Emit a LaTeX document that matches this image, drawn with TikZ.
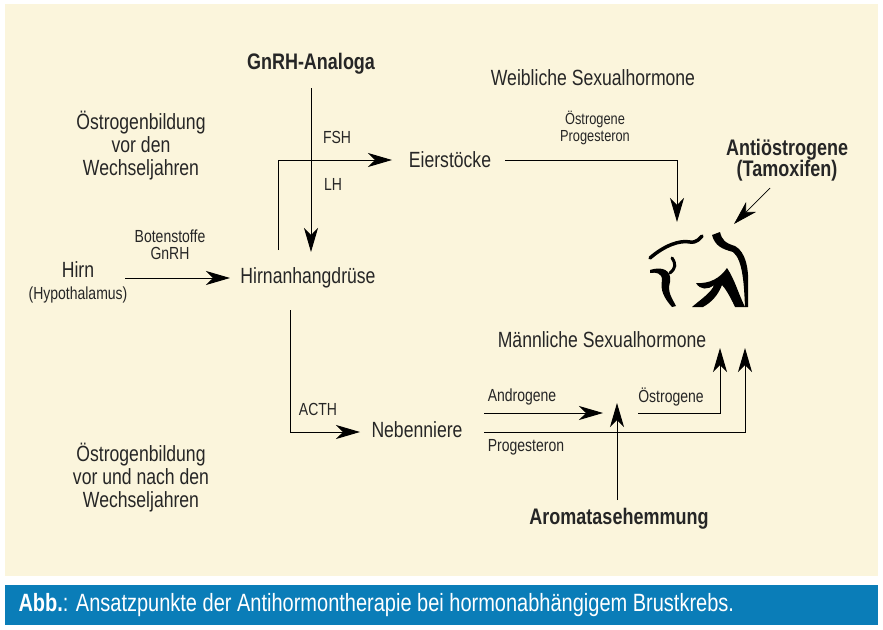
\documentclass[tikz,border=0pt]{standalone}
\usepackage{fontspec}
\setmainfont{Liberation Sans}[FakeStretch=0.8]
\usetikzlibrary{arrows.meta}
\definecolor{bgy}{HTML}{FBF5DC}
\definecolor{barb}{HTML}{0A7DB8}
\begin{document}
\begin{tikzpicture}[x=1pt,y=-1pt,
  big/.style={font=\fontsize{22}{25}\selectfont,align=center,text=black!85},
  sm/.style={font=\fontsize{17.5}{22}\selectfont,align=center,text=black!85},
  bold/.style={font=\fontsize{22.5}{25}\selectfont\bfseries,align=center,text=black!85},
  conn/.style={line width=1pt,-{Stealth[length=24pt,width=14pt,inset=7pt]}},
  plain/.style={line width=1pt}]
\useasboundingbox (0,0) rectangle (883,629);
\fill[white] (0,0) rectangle (883,629);
\fill[bgy] (5,4) rectangle (878,576);
\fill[barb] (5,585) rectangle (878,625);
\node[anchor=west,text=white,font=\fontsize{25}{25}\selectfont] at (15,605) {\textbf{Abb.}: Ansatzpunkte der Antihormontherapie bei hormonabhängigem Brustkrebs.};
% texts
\node[bold] (gnrh) at (311,64) {GnRH-Analoga};
\node[big] (weib) at (593,78) {Weibliche Sexualhormone};
\node[big] (oe1) at (141,146) {Östrogenbildung\\[-2pt]vor den\\[-2pt]Wechseljahren};
\node[sm] (fsh) at (337,137) {FSH};
\node[sm] (lh) at (333,184) {LH};
\node[big] (eier) at (450,160) {Eierstöcke};
\node[sm,font=\fontsize{16}{22}\selectfont] (oepro) at (595,128) {Östrogene\\[-5pt]Progesteron};
\node[bold] (anti) at (787,160) {Antiöstrogene\\[-4pt](Tamoxifen)};
\node[sm] (boten) at (170,245) {Botenstoffe\\[-5pt]GnRH};
\node[big] (hirn) at (78,270) {Hirn};
\node[sm] (hypo) at (78,295) {(Hypothalamus)};
\node[big] (hhd) at (308,278) {Hirnanhangdrüse};
\node[big] (maenn) at (602,340) {Männliche Sexualhormone};
\node[sm] (acth) at (318,409) {ACTH};
\node[big] (neben) at (417,430) {Nebenniere};
\node[sm] (andro) at (522,397) {Androgene};
\node[sm] (oe3) at (671,397) {Östrogene};
\node[sm] (prog) at (526,447) {Progesteron};
\node[big] (oe2) at (141,478) {Östrogenbildung\\[-2pt]vor und nach den\\[-2pt]Wechseljahren};
\node[bold] (arom) at (619,519) {Aromatasehemmung};
% coordinates
\coordinate (breastT) at (677,222);
\coordinate (breastA) at (734,224);
\coordinate (mix) at (603,413);
\coordinate (mA) at (720,348);
\coordinate (mB) at (745,348);
% connectors
\draw[conn] (311,88) -- (311,252);
\draw[conn] (278,250) -- (278,160) -- (392,160);
\draw[conn] (505,160) -- (677,160) -- (breastT);
\draw[conn,line width=0.7pt] (770,188) -- (breastA);
\draw[conn] (125,278) -- (230,278);
\draw[conn] (290,310) -- (290,432) -- (360,432);
\draw[conn] (484,413) -- (mix);
\draw[conn] (617,500) -- (617,403);
\draw[conn] (638,413) -- (720,413) -- (mA);
\draw[conn] (484,432) -- (745,432) -- (mB);
% breast icon
\begin{scope}[line cap=round]
\draw[line width=3.5pt] (650,258) .. controls (665,245) and (680,240) .. (690,242) .. controls (697,243) and (700,238) .. (702,236);
\fill (712,235) -- (720,232) .. controls (722,240) and (725,243) .. (735,246) .. controls (746,252) and (749,270) .. (748,285) -- (748,307) -- (745,307) .. controls (744,285) and (743,260) .. (733,252) .. controls (722,249) and (715,246) .. (712,235) -- cycle;
\fill (650,270) .. controls (662,266) and (672,270) .. (670,282) .. controls (667,292) and (672,298) .. (676,306) -- (672,307) .. controls (664,298) and (660,290) .. (662,280) .. controls (662,273) and (656,272) .. (650,273) -- cycle;
\draw[line width=3pt] (672,258) .. controls (676,264) and (676,268) .. (670,273);
\fill (696,283) .. controls (710,284) and (720,278) .. (727,268) .. controls (735,280) and (738,293) .. (745,307) -- (735,307) .. controls (730,296) and (725,288) .. (722,285) .. controls (718,295) and (712,302) .. (703,307) -- (692,307) .. controls (700,300) and (712,292) .. (714,285) .. controls (708,290) and (700,290) .. (696,283) -- cycle;
\end{scope}
\end{tikzpicture}
\end{document}
